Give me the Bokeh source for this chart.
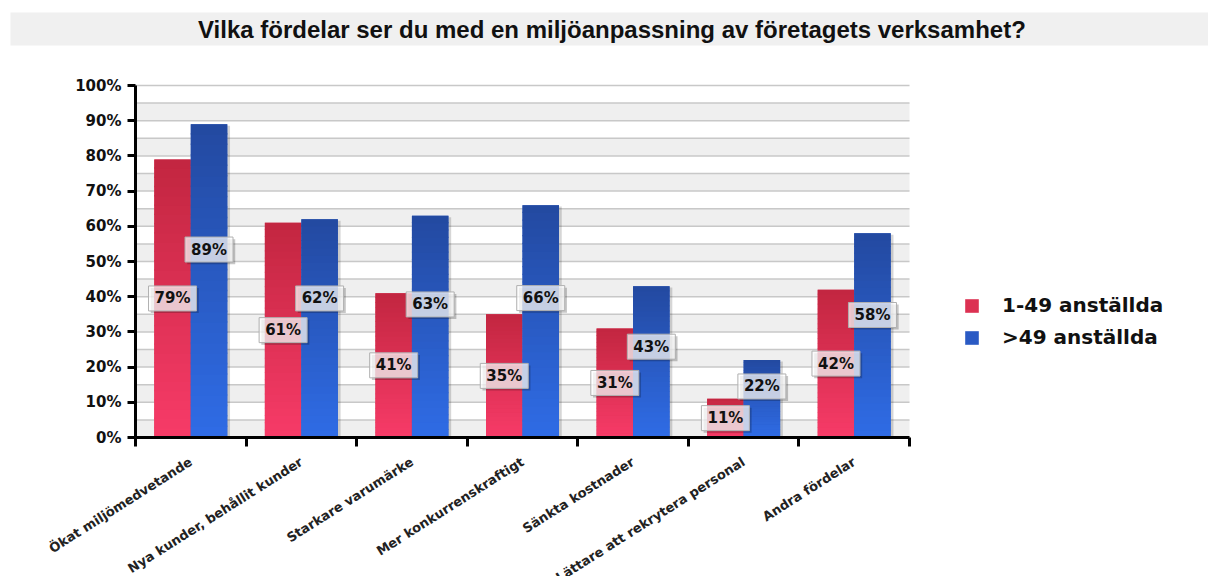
import numpy as np
from bokeh.plotting import figure
from bokeh.models import Range1d, FixedTicker, ColumnDataSource, Legend, LegendItem
from bokeh.layouts import column
from bokeh.embed import file_html
from bokeh.resources import INLINE
from bokeh.core.properties import value

# ---------------- data ----------------
title_text = "Vilka fördelar ser du med en miljöanpassning av företagets verksamhet?"
categories = ["Ökat miljömedvetande", "Nya kunder, behållit kunder", "Starkare varumärke",
              "Mer konkurrenskraftigt", "Sänkta kostnader", "Lättare att rekrytera personal",
              "Andra fördelar"]
series_names = ["1-49 anställda", ">49 anställda"]
small_firms = [79, 61, 41, 35, 31, 11, 42]
large_firms = [89, 62, 63, 66, 43, 22, 58]
y_ticks = [0, 10, 20, 30, 40, 50, 60, 70, 80, 90, 100]
y_tick_labels = ["0%", "10%", "20%", "30%", "40%", "50%", "60%", "70%", "80%", "90%", "100%"]

# ---------------- styles / layout ----------------
FONT = "DejaVu Sans"
RED_TOP, RED_BOT, RED_MID = "#c22640", "#f73b68", "#dc3152"
BLUE_TOP, BLUE_BOT, BLUE_MID = "#2349a0", "#2f6ce6", "#2a5ac4"
BAR_W = 0.33
OFFS = [0.335, 0.665]
N_SLICES = 30
GRID_STEP = 5

W, TITLE_H, MAIN_H = 1208, 53, 523
AX_LEFT, AX_RIGHT, AX_TOP, AX_BOTTOM = 135, 909, 85, 437   # plot area in page pixels
n_cat = len(categories)
px_x = (AX_RIGHT - AX_LEFT) / n_cat
px_y = (AX_BOTTOM - AX_TOP) / 100.0
X_MIN = -AX_LEFT / px_x
X_MAX = n_cat + (W - AX_RIGHT) / px_x
Y_MAX = 100 + (AX_TOP - TITLE_H) / px_y
Y_MIN = -(TITLE_H + MAIN_H - AX_BOTTOM) / px_y


def hex2rgb(h):
    return tuple(int(h[i:i + 2], 16) for i in (1, 3, 5))


def lerp(c0, c1, t):
    a, b = hex2rgb(c0), hex2rgb(c1)
    return "#%02x%02x%02x" % tuple(int(round(x + (y - x) * t)) for x, y in zip(a, b))


# ---------------- title band ----------------
tf = figure(width=W, height=TITLE_H, x_range=Range1d(0, 1), y_range=Range1d(0, 1),
            toolbar_location=None, output_backend="svg",
            min_border_left=10, min_border_right=0, min_border_top=12, min_border_bottom=8)
tf.frame_align = False
tf.axis.visible = False
tf.grid.visible = False
tf.outline_line_color = None
tf.border_fill_color = "white"
tf.background_fill_color = "#f0f0f0"
tf.text(x=[0.502], y=[0.5], text=[title_text], text_align="center", text_baseline="middle",
        text_font=value("Liberation Sans"), text_font_style="bold", text_font_size="24px",
        text_color="#111111")

# ---------------- main chart (frame covers the whole canvas) ----------------
p = figure(width=W, height=MAIN_H, x_range=Range1d(X_MIN, X_MAX), y_range=Range1d(Y_MIN, Y_MAX),
           toolbar_location=None, output_backend="svg",
           min_border_left=0, min_border_right=0, min_border_top=0, min_border_bottom=0)
p.frame_align = False
p.outline_line_color = None
p.background_fill_color = "white"
p.border_fill_color = "white"
p.grid.visible = False

# striped background of the plot area, following the 5 % grid
grid_levels = list(range(0, 101, GRID_STEP))
band_lo = grid_levels[0:-1:2]
p.hbar(y=[b + GRID_STEP / 2 for b in band_lo], height=GRID_STEP, left=0, right=n_cat,
       fill_color="#efefef", line_color=None)
p.segment(x0=[0] * len(grid_levels), x1=[n_cat] * len(grid_levels), y0=grid_levels, y1=grid_levels,
          line_color="#c8c8c8", line_width=1.5)

# bars: shadow, base, gradient slices
series = [(small_firms, RED_TOP, RED_BOT, RED_MID, OFFS[0]),
          (large_firms, BLUE_TOP, BLUE_BOT, BLUE_MID, OFFS[1])]

base_renderers = []
for vals, ctop, cbot, cmid, off in series:
    xs = [i + off for i in range(n_cat)]
    p.vbar(x=[x + 0.025 for x in xs], top=[v - 0.4 for v in vals], bottom=0, width=BAR_W,
           fill_color="black", fill_alpha=0.16, line_color=None)
    base_renderers.append(p.vbar(x=xs, top=vals, bottom=0, width=BAR_W,
                                 fill_color=cmid, line_color=None))
    sl = dict(x=[], bottom=[], top=[], c=[])
    for x, v in zip(xs, vals):
        for k in range(N_SLICES):
            sl["x"].append(x)
            sl["bottom"].append(v * k / N_SLICES)
            sl["top"].append(min(v, v * (k + 1.15) / N_SLICES))
            sl["c"].append(lerp(cbot, ctop, (k + 0.5) / N_SLICES))
    p.vbar(x="x", top="top", bottom="bottom", width=BAR_W, source=ColumnDataSource(sl),
           fill_color="c", line_color=None)

# value labels
lab = dict(x=[], y=[], t=[])
for i, (a, b) in enumerate(zip(small_firms, large_firms)):
    ya = a / 2.0
    yb = max(0.6 * b, ya + 9)
    lab["x"] += [i + OFFS[0], i + OFFS[1]]
    lab["y"] += [ya, yb]
    lab["t"] += ["%d%%" % a, "%d%%" % b]
lab_src = ColumnDataSource(lab)
shadow_src = ColumnDataSource(dict(x=[x + 0.02 for x in lab["x"]], y=[y - 0.6 for y in lab["y"]]))
p.rect(x="x", y="y", width=48, height=25, width_units="screen", height_units="screen",
       source=shadow_src, fill_color="black", fill_alpha=0.22, line_color=None)
p.rect(x="x", y="y", width=48, height=25, width_units="screen", height_units="screen",
       source=lab_src, fill_color="white", fill_alpha=0.74, line_color="#b0b0b0", line_width=1)
p.text(x="x", y="y", text="t", source=lab_src, text_align="center", text_baseline="middle",
       text_font=value(FONT), text_font_style="bold", text_font_size="15px", text_color="#111111")

# axes
label_ticks = [i + 0.5 for i in range(n_cat)]
p.xaxis.fixed_location = 0
p.xaxis.bounds = (0, n_cat)
p.xaxis.ticker = FixedTicker(ticks=label_ticks, minor_ticks=list(range(n_cat + 1)))
p.xaxis.major_label_overrides = {t: c for t, c in zip(label_ticks, categories)}
p.xaxis.major_label_orientation = 0.565
p.xaxis.major_tick_line_color = None
p.xaxis.major_tick_out = 0
p.xaxis.major_tick_in = 0
p.xaxis.minor_tick_out = 9
p.xaxis.minor_tick_in = 0
p.xaxis.minor_tick_line_width = 3
p.xaxis.minor_tick_line_color = "black"
p.xaxis.major_label_standoff = 14
p.xaxis.major_label_text_font = FONT
p.xaxis.major_label_text_font_style = "bold"
p.xaxis.major_label_text_font_size = "13px"
p.xaxis.major_label_text_color = "#222222"

p.yaxis.fixed_location = 0
p.yaxis.bounds = (0, 100)
p.yaxis.ticker = FixedTicker(ticks=y_ticks)
p.yaxis.major_label_overrides = {t: l for t, l in zip(y_ticks, y_tick_labels)}
p.yaxis.major_tick_out = 8
p.yaxis.major_tick_in = 0
p.yaxis.major_tick_line_width = 3
p.yaxis.minor_tick_line_color = None
p.yaxis.major_label_standoff = 6
p.yaxis.major_label_text_font = FONT
p.yaxis.major_label_text_font_style = "bold"
p.yaxis.major_label_text_font_size = "15px"
p.yaxis.major_label_text_color = "#111111"

for ax in (p.xaxis, p.yaxis):
    ax.axis_line_width = 3
    ax.axis_line_color = "black"

# legend, placed right of the plot area (screen offsets from the frame's bottom-left)
legend = Legend(items=[LegendItem(label=series_names[0], renderers=[base_renderers[0]]),
                       LegendItem(label=series_names[1], renderers=[base_renderers[1]])],
                location=(963, TITLE_H + MAIN_H - 349), glyph_width=17, glyph_height=17,
                label_height=17, label_standoff=22, spacing=8, padding=0, margin=0,
                border_line_color=None, background_fill_alpha=0,
                label_text_font=FONT, label_text_font_style="bold",
                label_text_font_size="20px", label_text_color="#111111")
p.add_layout(legend)

layout = column(tf, p, spacing=0)
open("out.html", "w").write(file_html(layout, INLINE))
